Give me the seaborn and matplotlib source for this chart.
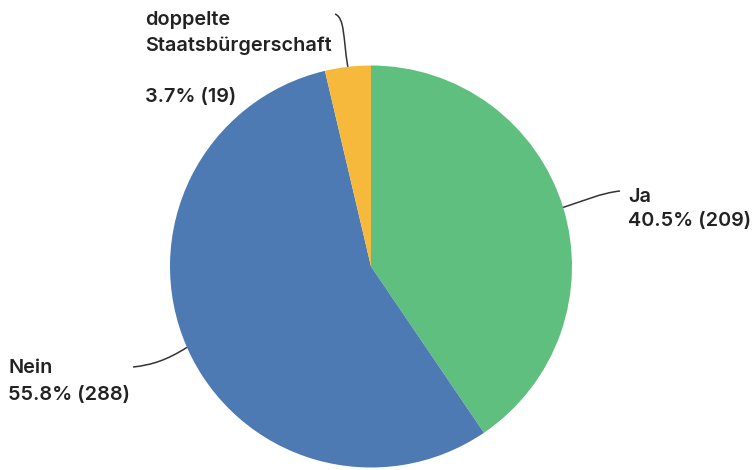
import matplotlib
matplotlib.use("Agg")
import matplotlib.pyplot as plt
import numpy as np
import seaborn as sns
from matplotlib.path import Path
from matplotlib.patches import PathPatch

# Survey answers
categories = ["Ja", "Nein", "doppelte\nStaatsbürgerschaft"]
counts = [209, 288, 19]
percent_labels = ["40.5% (209)", "55.8% (288)", "3.7% (19)"]

sns.set_theme(style="white")
plt.rcParams["font.family"] = ["Inter", "DejaVu Sans"]

colors = ["#5ebf7f", "#4d7ab3", "#f7b93c"]
text_color = "#222222"

W, H = 755, 470
fig = plt.figure(figsize=(W / 100, H / 100), dpi=100)
ax = fig.add_axes([0, 0, 1, 1])

cx, cy, r = 371, H - 266.5, 201
wedges, _ = ax.pie(
    counts, colors=colors, startangle=90, counterclock=False,
    center=(cx, cy), radius=r, frame=True,
    wedgeprops=dict(linewidth=0),
)
ax.set_xlim(0, W)
ax.set_ylim(0, H)
ax.set_aspect("equal")
ax.axis("off")


def edge_point(w):
    mid = np.deg2rad((w.theta1 + w.theta2) / 2)
    return cx + r * np.cos(mid), cy + r * np.sin(mid)


def leader(points):
    verts = [(x, H - y) if i else (x, y) for i, (x, y) in enumerate(points)]
    codes = [Path.MOVETO, Path.CURVE4, Path.CURVE4, Path.CURVE4]
    ax.add_patch(PathPatch(Path(verts, codes), fill=False,
                           edgecolor="#333333", linewidth=1.1))


fs = 14.3
kw = dict(fontsize=fs, fontweight="semibold", color=text_color, va="baseline", ha="left")

# Ja
x0, y0 = edge_point(wedges[0])
leader([(x0, y0), (x0 + 20, 201), (x0 + 38, 193), (620, 191)])
ax.text(628, H - 202, categories[0], **kw)
ax.text(628, H - 226, percent_labels[0], **kw)

# Nein
x0, y0 = edge_point(wedges[1])
leader([(x0, y0), (x0 - 20, 360), (x0 - 35, 365), (133, 367)])
ax.text(8, H - 373, categories[1], **kw)
ax.text(8, H - 400, percent_labels[1], **kw)

# doppelte Staatsbürgerschaft
x0, y0 = edge_point(wedges[2])
leader([(x0, y0), (343, 38), (345, 18), (335, 14)])
first, second = categories[2].split("\n")
ax.text(145, H - 25, first, **kw)
ax.text(145, H - 51, second, **kw)
ax.text(145, H - 102, percent_labels[2], **kw)

fig.savefig("out.png", dpi=100)
